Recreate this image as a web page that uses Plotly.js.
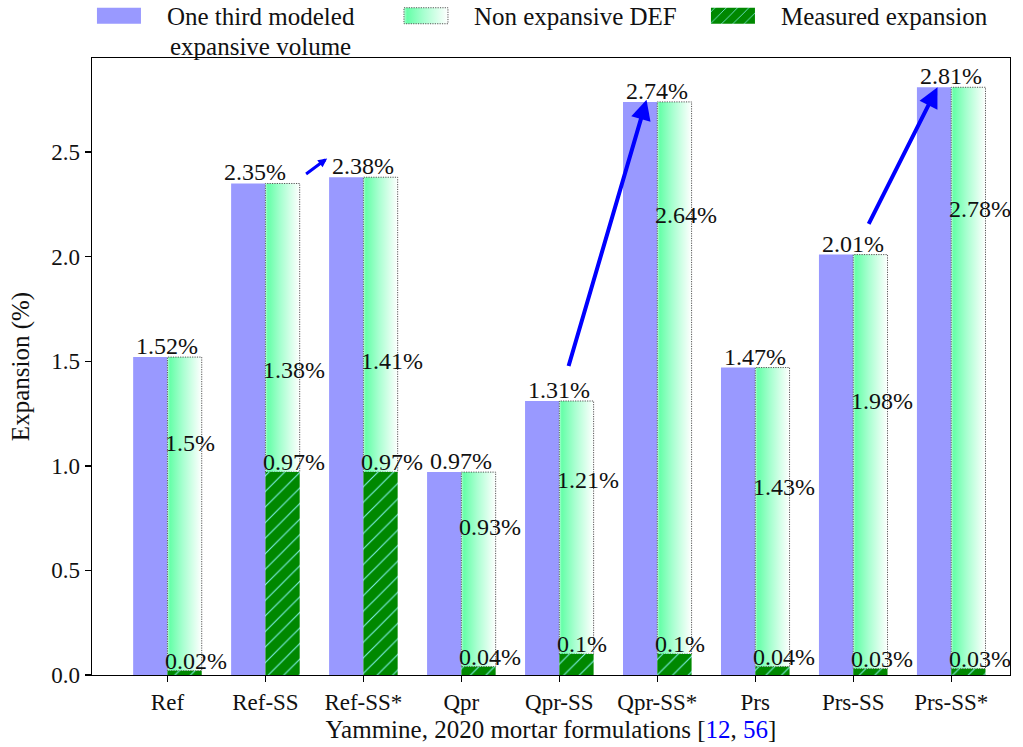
<!DOCTYPE html>
<html>
<head>
<meta charset="utf-8">
<script src="https://cdn.plot.ly/plotly-3.0.1.min.js"></script>
<style>html,body{margin:0;padding:0;background:#fff;}#chart{width:1023px;height:747px;}</style>
</head>
<body>
<div id="chart"></div>
<script>
// ---- data ----
const categories = ["Ref", "Ref-SS", "Ref-SS*", "Qpr", "Qpr-SS", "Qpr-SS*", "Prs", "Prs-SS", "Prs-SS*"];
const oneThirdModeled = [1.52, 2.35, 2.38, 0.97, 1.31, 2.74, 1.47, 2.01, 2.81];
const nonExpansiveDEF = [1.5, 1.38, 1.41, 0.93, 1.21, 2.64, 1.43, 1.98, 2.78];
const measuredExpansion = [0.02, 0.97, 0.97, 0.04, 0.1, 0.1, 0.04, 0.03, 0.03];
// heights (in %) at which the non-expansive labels sit in the original figure
const nonExpLabelHeight = [1.11, 1.46, 1.50, 0.71, 0.93, 2.20, 0.90, 1.31, 2.23];
// arrows: from category -> to category
const arrowPairs = [[1, 2], [4, 5], [7, 8]];
const legendNames = ["One third modeled", "Non expansive DEF", "Measured expansion"];
const legendSecondLine = "expansive volume";

const FONT = "Liberation Serif, Times New Roman, serif";
const idx = categories.map((c, i) => i);
const BW = 0.35;

const traces = [
  {
    type: "bar", name: legendNames[0],
    x: idx, y: oneThirdModeled, offset: -BW, width: BW,
    marker: {color: "#9999ff", line: {width: 0}},
    hoverinfo: "skip"
  },
  {
    type: "bar", name: legendNames[1],
    x: idx, y: nonExpansiveDEF, base: measuredExpansion, offset: 0, width: BW,
    marker: {color: "#88ffbb", line: {color: "#555555", width: 1}},
    hoverinfo: "skip"
  },
  {
    type: "bar", name: legendNames[2],
    x: idx, y: measuredExpansion, offset: 0, width: BW,
    marker: {color: "#008800", line: {width: 0},
      pattern: {shape: "/", fgcolor: "#80f0e8", bgcolor: "#008800", size: 11, solidity: 0.1, fillmode: "replace"}},
    hoverinfo: "skip"
  }
];

const fmt = v => (Math.round(v * 100) / 100).toString() + "%";
const LBL = 24;
const annotations = [];
categories.forEach((c, i) => {
  annotations.push({
    x: i, y: oneThirdModeled[i], xref: "x", yref: "y", text: fmt(oneThirdModeled[i]),
    showarrow: false, xanchor: "center", yanchor: "bottom", xshift: (i === 1 ? -10 : 0), yshift: -4,
    font: {family: FONT, size: LBL, color: "#111"}
  });
  annotations.push({
    x: i, y: nonExpLabelHeight[i], xref: "x", yref: "y", text: fmt(nonExpansiveDEF[i]),
    showarrow: false, xanchor: "left", yanchor: "middle", xshift: -4,
    font: {family: FONT, size: LBL, color: "#111"}
  });
  annotations.push({
    x: i, y: measuredExpansion[i], xref: "x", yref: "y", text: fmt(measuredExpansion[i]),
    showarrow: false, xanchor: "left", yanchor: "bottom", xshift: -4, yshift: -5,
    font: {family: FONT, size: LBL, color: "#111"}
  });
});
// arrow offsets relative to bar tops (tail dx, tail dy, head dx, head dy, head size, width)
const arrowOffsets = [[0.40, 0.04, -0.37, 0.09, 0.6, 3], [0.09, 0.16, -0.11, 0.01, 1, 4], [0.15, 0.14, -0.14, 0.0, 1, 4]];
arrowPairs.forEach(([a, b], k) => {
  const o = arrowOffsets[k];
  annotations.push({
    x: b + o[2], y: oneThirdModeled[b] + o[3], ax: a + o[0], ay: oneThirdModeled[a] + o[1],
    xref: "x", yref: "y", axref: "x", ayref: "y", text: "", showarrow: true,
    arrowhead: 2, arrowsize: o[4], arrowwidth: o[5], arrowcolor: "#0000ff", standoff: 0, startstandoff: 0
  });
});
// second line of the first legend entry
annotations.push({
  xref: "paper", yref: "paper", x: 0.0828, y: 1.0194, xanchor: "left", yanchor: "middle",
  text: legendSecondLine, showarrow: false, font: {family: FONT, size: 25, color: "#111"}
});

const layout = {
  width: 1023, height: 747,
  margin: {l: 92, r: 13, t: 58, b: 72, autoexpand: false},
  paper_bgcolor: "#ffffff", plot_bgcolor: "#ffffff",
  font: {family: FONT, size: 22, color: "#111"},
  barmode: "overlay",
  showlegend: true,
  legend: {orientation: "h", xref: "container", x: 0.085, xanchor: "left",
    yref: "container", y: 0.9786, yanchor: "middle", valign: "middle",
    font: {family: FONT, size: 25, color: "#111"}, bgcolor: "rgba(0,0,0,0)", itemwidth: 70, tracegroupgap: 0,
    entrywidthmode: "pixels", entrywidth: 222},
  xaxis: {
    range: [-0.77, 8.6], tickmode: "array", tickvals: idx, ticktext: categories,
    showgrid: false, zeroline: false, showline: true, mirror: true, linecolor: "#000", linewidth: 1.3,
    ticks: "outside", ticklen: 6, tickwidth: 1.3, tickcolor: "#000",
    tickfont: {family: FONT, size: 23, color: "#111"},
    title: {text: 'Yammine, 2020 mortar formulations [<span style="color:#0000ff">12</span>, <span style="color:#0000ff">56</span>]',
      font: {family: FONT, size: 25, color: "#111"}, standoff: 6}
  },
  yaxis: {
    range: [0, 2.95], tickvals: [0, 0.5, 1, 1.5, 2, 2.5], tickformat: ".1f", side: "left",
    showgrid: false, zeroline: false, showline: true, mirror: true, linecolor: "#000", linewidth: 1.3,
    ticks: "outside", ticklen: 6, tickwidth: 1.3, tickcolor: "#000",
    tickfont: {family: FONT, size: 23, color: "#111"},
    title: {text: "Expansion (%)", font: {family: FONT, size: 25, color: "#111"}, standoff: 14}
  },
  annotations: annotations
};

function applyGradient(gd) {
  const svg = gd.querySelector("svg.main-svg");
  if (!svg) return;
  const NS = "http://www.w3.org/2000/svg";
  if (!document.getElementById("mintgrad")) {
    let defs = svg.querySelector("defs");
    if (!defs) { defs = document.createElementNS(NS, "defs"); svg.insertBefore(defs, svg.firstChild); }
    const g = document.createElementNS(NS, "linearGradient");
    g.setAttribute("id", "mintgrad");
    g.setAttribute("x1", "0"); g.setAttribute("y1", "0"); g.setAttribute("x2", "1"); g.setAttribute("y2", "0");
    [["0", "#b8ffd8"], ["0.07", "#66ffa8"], ["0.45", "#a8ffd0"], ["1", "#ffffff"]].forEach(([off, col]) => {
      const s = document.createElementNS(NS, "stop");
      s.setAttribute("offset", off); s.setAttribute("stop-color", col);
      g.appendChild(s);
    });
    defs.appendChild(g);
  }
  const barTraces = gd.querySelectorAll(".barlayer .trace.bars");
  if (barTraces[1]) {
    barTraces[1].querySelectorAll("path").forEach(p => {
      p.style.fill = "url(#mintgrad)";
      p.style.stroke = "#555";
      p.style.strokeWidth = "1px";
      p.style.strokeDasharray = "1.2,1.2";
    });
  }
  const legTraces = gd.querySelectorAll(".legend .traces");
  legTraces.forEach((lt, k) => {
    lt.querySelectorAll(".legendpoints path").forEach(p => {
      p.setAttribute("d", "M14,8H-30V-8H14Z");
      if (k === 1) {
        p.style.fill = "url(#mintgrad)";
        p.style.stroke = "#555";
        p.style.strokeDasharray = "1.2,1.2";
      }
    });
  });
}

Plotly.newPlot("chart", traces, layout, {displayModeBar: false, staticPlot: true}).then(gd => {
  applyGradient(gd);
  gd.on("plotly_afterplot", () => applyGradient(gd));
});
</script>
</body>
</html>
